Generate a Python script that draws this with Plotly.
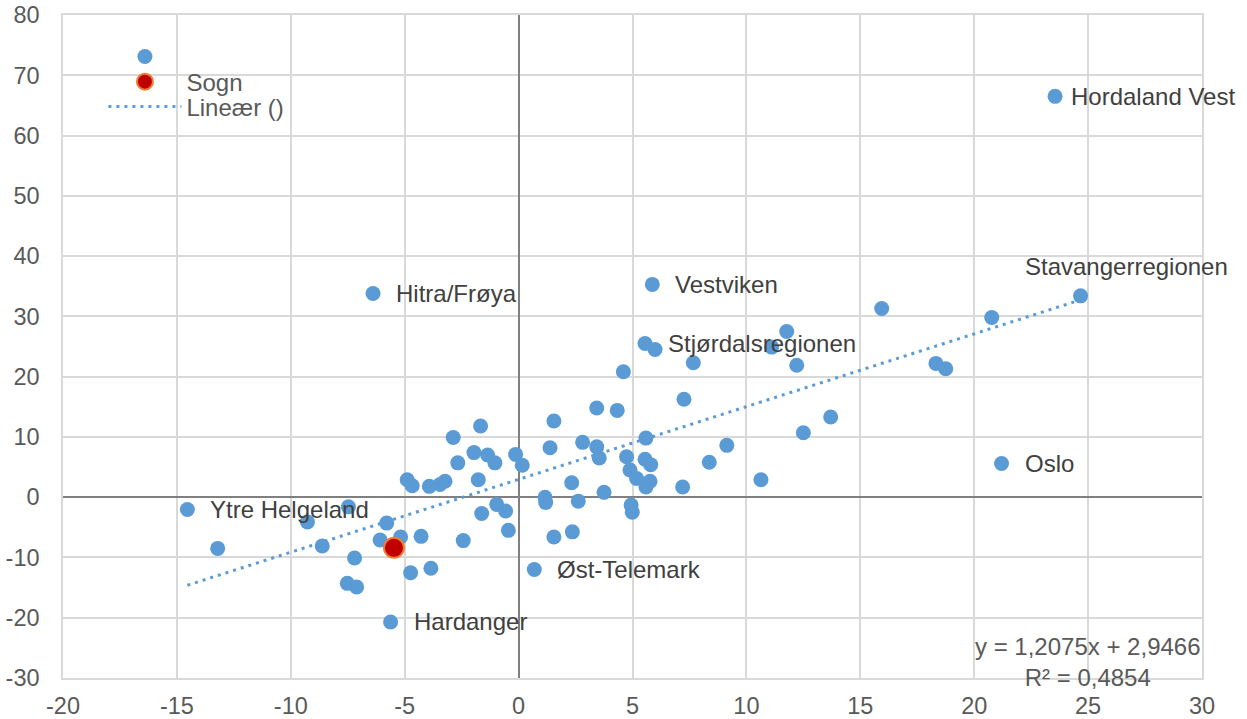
import plotly.graph_objects as go

# ---- data ----
region_names = ["Hordaland Vest", "Stavangerregionen", "Oslo", "Vestviken", "Hitra/Frøya",
                "Stjørdalsregionen", "Ytre Helgeland", "Øst-Telemark", "Hardanger"]
region_x = [23.55, 24.67, 21.2, 5.87, -6.39, 5.55, -14.54, 0.69, -5.62]
region_y = [66.5, 33.4, 5.6, 35.3, 33.8, 25.5, -2.04, -12.0, -20.7]

other_x = [-1.67, -2.87, -1.96, -1.36, -1.04, -2.67, -0.13, 0.16, -4.89, -4.67,
           -3.92, -3.45, -3.23, -1.77, 1.16, 1.19, -7.47, -0.96, -0.57, -1.62,
           -0.45, 1.55, 2.36, -9.27, -5.79, -6.08, -5.18, -4.28, -2.43, -13.21,
           -8.62, -7.2, -4.74, -3.85, -7.52, -7.11, 5.99, 11.77, 11.11, 12.21,
           7.67, 4.6, 7.26, 3.43, 4.33, 1.55, 5.59, 1.38, 2.81, 3.43,
           3.54, 4.74, 5.55, 5.8, 8.37, 9.14, 4.89, 5.18, 5.77, 5.59,
           7.2, 10.64, 2.33, 3.75, 2.62, 4.94, 4.99, 13.7, 12.5, 15.94,
           20.77, 18.32, 18.75]
other_y = [11.8, 9.9, 7.4, 7.0, 5.7, 5.7, 7.1, 5.3, 2.9, 1.9,
           1.8, 2.1, 2.65, 2.9, 0.0, -0.9, -1.6, -1.2, -2.3, -2.7,
           -5.5, -6.6, -5.75, -4.1, -4.3, -7.1, -6.6, -6.5, -7.2, -8.5,
           -8.1, -10.1, -12.55, -11.8, -14.3, -14.9, 24.5, 27.5, 24.9, 21.9,
           22.3, 20.8, 16.25, 14.8, 14.4, 12.65, 9.8, 8.2, 9.1, 8.35,
           6.5, 6.7, 6.3, 5.4, 5.8, 8.6, 4.5, 3.1, 2.65, 1.7,
           1.7, 2.9, 2.4, 0.8, -0.66, -1.3, -2.5, 13.3, 10.7, 31.3,
           29.8, 22.2, 21.3]

sogn_name = "Sogn"
sogn_x = [-5.47]
sogn_y = [-8.4]

SLOPE = 1.2075
INTERCEPT = 2.9466
R2 = 0.4854

x_ticks = [-20, -15, -10, -5, 0, 5, 10, 15, 20, 25, 30]
y_ticks = [-30, -20, -10, 0, 10, 20, 30, 40, 50, 60, 70, 80]

# ---- styling ----
FONT = "Liberation Sans, Arial, sans-serif"
BLUE = "#5B9BD5"
TXT = "#595959"
LBL = "#404040"
FS = 23.5
FS_LBL = 24

all_x = region_x + other_x
all_y = region_y + other_y

xmin, xmax = min(all_x), max(all_x)
trend_x = [xmin, xmax]
trend_y = [SLOPE * v + INTERCEPT for v in trend_x]

fig = go.Figure()
fig.add_trace(go.Scatter(
    x=all_x, y=all_y, mode="markers", name=" ", legend="legend",
    marker=dict(color=BLUE, size=15, line=dict(width=0)),
))
fig.add_trace(go.Scatter(
    x=sogn_x, y=sogn_y, mode="markers", name=sogn_name, legend="legend2",
    marker=dict(color="#C00000", size=20, line=dict(color="#ED7D31", width=2)),
))
fig.add_trace(go.Scatter(
    x=trend_x, y=trend_y, mode="lines", name="Lineær ()", legend="legend3",
    line=dict(color=BLUE, width=3, dash="3px,5px"),
))

# point labels
for name, x, y in zip(region_names, region_x, region_y):
    if name == "Stavangerregionen":
        xs, ys = -58, 29
    elif name == "Hordaland Vest":
        xs, ys = 14, 0
    else:
        xs, ys = 21, 0
    fig.add_annotation(x=x, y=y, text=name, showarrow=False, xanchor="left",
                       yanchor="middle", xshift=xs, yshift=ys,
                       font=dict(family=FONT, size=FS_LBL, color=LBL))

def fmt(v):
    return f"{v:.4f}".replace(".", ",")

fig.add_annotation(
    xref="paper", yref="paper", x=0.9, y=0.024, xanchor="center", yanchor="middle",
    text=f"y = {fmt(SLOPE)}x + {fmt(INTERCEPT)}<br>R² = {fmt(R2)}",
    showarrow=False, align="center",
    font=dict(family=FONT, size=FS_LBL, color=TXT),
)

axis_common = dict(
    showgrid=True, gridcolor="#D9D9D9", gridwidth=1.5,
    zeroline=True, zerolinecolor="#808080", zerolinewidth=1.5,
    showline=True, linecolor="#D9D9D9", linewidth=1.5, mirror=True,
    ticks="", automargin=False,
    tickfont=dict(family=FONT, size=FS, color=TXT),
)

legend_common = dict(x=0.0355, xanchor="left", yanchor="middle",
                     bgcolor="rgba(0,0,0,0)",
                     font=dict(family=FONT, size=FS_LBL, color=TXT),
                     itemwidth=73)

fig.update_layout(
    width=1247, height=719,
    margin=dict(l=63, r=45, t=15, b=41),
    paper_bgcolor="white", plot_bgcolor="white",
    font=dict(family=FONT, size=FS, color=TXT),
    xaxis=dict(range=[-20, 30], tickvals=x_ticks, ticktext=[str(v) for v in x_ticks],
               ticklabelstandoff=6, **axis_common),
    yaxis=dict(range=[-30, 80], tickvals=y_ticks, ticktext=[str(v) for v in y_ticks],
               ticklabelstandoff=17, **axis_common),
    showlegend=True,
    legend=dict(y=0.9367, **legend_common),
    legend2=dict(y=0.8989, **legend_common),
    legend3=dict(y=0.8612, **legend_common),
)

fig.write_html("out.html", config={"displayModeBar": False},
               post_script="document.body.style.margin='0';")
